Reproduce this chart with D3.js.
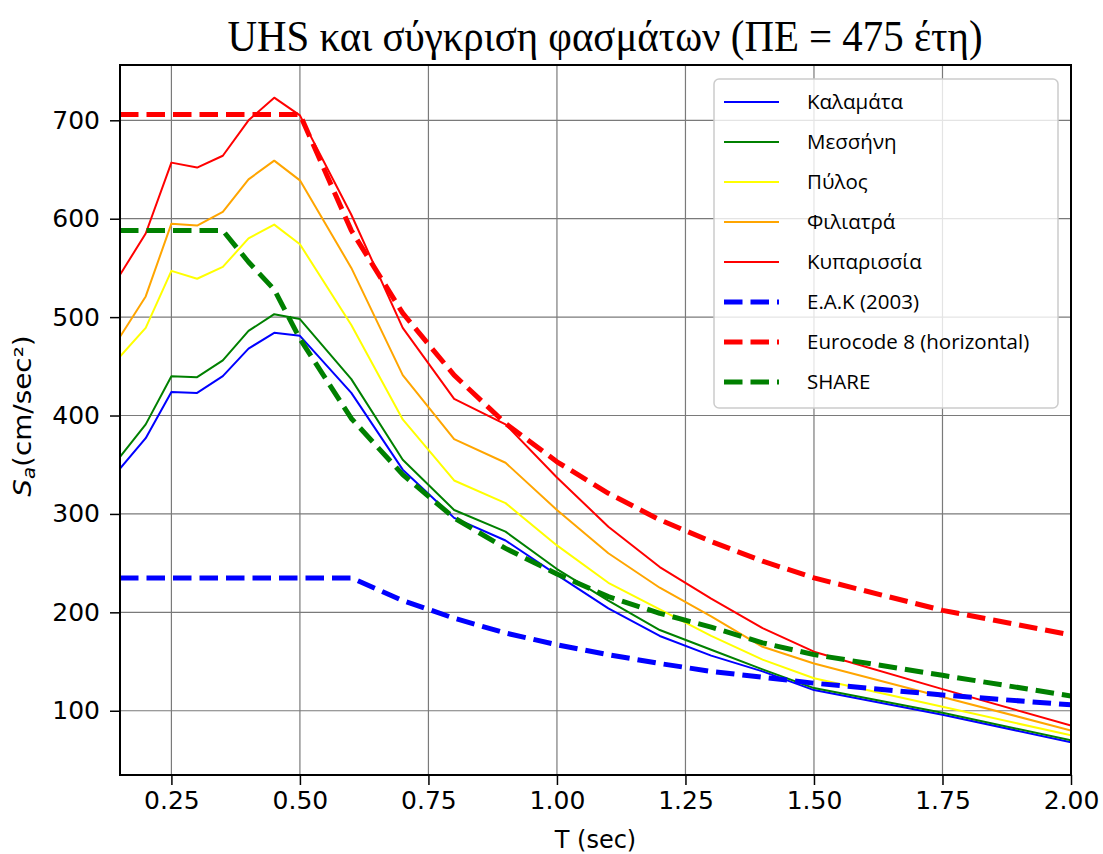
<!DOCTYPE html>
<html>
<head>
<meta charset="utf-8">
<script src="https://cdn.jsdelivr.net/npm/d3@7"></script>
<style>
  body { margin: 0; background: #fff; }
  svg { display: block; }
</style>
</head>
<body>
<svg id="chart" width="1103" height="854"></svg>
<script>
// Periods (sec)
const periods = [0.15, 0.2, 0.25, 0.3, 0.35, 0.4, 0.45, 0.5, 0.6, 0.7, 0.8, 0.9, 1.0, 1.1, 1.2, 1.3, 1.4, 1.5, 1.75, 2.0];

// Uniform hazard spectra, Sa (cm/sec^2)
const kalamata   = [346, 377, 424, 423, 440, 468, 484, 481, 423, 345, 296, 273, 238, 204, 176, 156, 140, 121, 96, 68];
const messini    = [358, 391, 440, 439, 456, 486, 503, 498, 437, 355, 304, 282, 244, 212, 182, 162, 142, 123, 98, 70];
const pylos      = [460, 489, 547, 539, 551, 580, 594, 574, 492, 396, 334, 311, 268, 230, 203, 176, 152, 133, 104, 75];
const filiatra   = [480, 521, 595, 593, 607, 640, 659, 639, 550, 441, 376, 352, 304, 260, 225, 196, 165, 148, 114, 80];
const kyparissia = [543, 585, 657, 652, 664, 700, 723, 705, 604, 489, 417, 391, 337, 287, 246, 214, 184, 160, 122, 85];

// Code spectra
const eak2003 = [235, 235, 235, 235, 235, 235, 235, 235, 235, 212, 194, 179, 167, 157, 148, 140, 134, 128, 116, 106];
const ec8     = [706, 706, 706, 706, 706, 706, 706, 706, 588, 504, 441, 392, 353, 321, 294, 272, 252, 235, 202, 177];
const share   = [588, 588, 588, 588, 588, 556, 528, 478, 397, 340, 296, 265, 239, 216, 199, 185, 169, 157, 136, 115];

// Axis ticks
const xTicks = [0.25, 0.5, 0.75, 1.0, 1.25, 1.5, 1.75, 2.0];
const yTicks = [100, 200, 300, 400, 500, 600, 700];

const seriesNames  = ["Καλαμάτα", "Μεσσήνη", "Πύλος", "Φιλιατρά", "Κυπαρισσία", "Ε.Α.Κ (2003)", "Eurocode 8 (horizontal)", "SHARE"];
const seriesValues = [kalamata, messini, pylos, filiatra, kyparissia, eak2003, ec8, share];
const seriesColors = ["#0000ff", "#008000", "#ffff00", "#ffa500", "#ff0000", "#0000ff", "#ff0000", "#008000"];
const seriesDashed = [false, false, false, false, false, true, true, true];

const svg = d3.select("#chart");
const pLeft = 120, pRight = 1071, pTop = 65, pBottom = 775;

const x = d3.scaleLinear().domain([0.15, 2.0]).range([pLeft, pRight]);
const y = d3.scaleLinear().domain([34.7, 756.2]).range([pBottom, pTop]);

svg.append("defs").append("clipPath").attr("id", "plotclip")
  .append("rect").attr("x", pLeft).attr("y", pTop)
  .attr("width", pRight - pLeft).attr("height", pBottom - pTop);

// Grid
const grid = svg.append("g");
grid.selectAll("line.gx").data(xTicks).join("line")
  .attr("x1", d => x(d)).attr("x2", d => x(d))
  .attr("y1", pTop).attr("y2", pBottom)
  .attr("stroke", "#7a7a7a").attr("stroke-width", 1.2);
grid.selectAll("line.gy").data(yTicks).join("line")
  .attr("x1", pLeft).attr("x2", pRight)
  .attr("y1", d => y(d)).attr("y2", d => y(d))
  .attr("stroke", "#7a7a7a").attr("stroke-width", 1.2);

// Series lines
const line = d3.line().x((d, i) => x(periods[i])).y(d => y(d));
const plot = svg.append("g").attr("clip-path", "url(#plotclip)");
seriesValues.forEach((vals, k) => {
  plot.append("path")
    .datum(vals)
    .attr("d", line)
    .attr("fill", "none")
    .attr("stroke", seriesColors[k])
    .attr("stroke-width", seriesDashed[k] ? 5 : 2)
    .attr("stroke-dasharray", seriesDashed[k] ? "18.5,8" : null)
    .attr("stroke-linejoin", "round");
});

// Axes
const tickFont = "'DejaVu Sans', sans-serif";
const xAxis = svg.append("g").attr("transform", `translate(0,${pBottom})`)
  .call(d3.axisBottom(x).tickValues(xTicks).tickFormat(d3.format(".2f")).tickSize(10).tickPadding(6));
const yAxis = svg.append("g").attr("transform", `translate(${pLeft},0)`)
  .call(d3.axisLeft(y).tickValues(yTicks).tickFormat(d3.format("d")).tickSize(10).tickPadding(10));
[xAxis, yAxis].forEach(a => {
  a.select(".domain").remove();
  a.selectAll(".tick line").attr("stroke", "#000").attr("stroke-width", 1.5);
  a.selectAll(".tick text").attr("fill", "#000")
    .style("font-family", tickFont).style("font-size", "25px");
});

// Frame
svg.append("rect").attr("x", pLeft).attr("y", pTop)
  .attr("width", pRight - pLeft).attr("height", pBottom - pTop)
  .attr("fill", "none").attr("stroke", "#000").attr("stroke-width", 2);

// Title
svg.append("text").attr("x", 605).attr("y", 51).attr("text-anchor", "middle")
  .attr("textLength", 755).attr("lengthAdjust", "spacingAndGlyphs")
  .style("font-family", "'Liberation Serif', 'Times New Roman', serif")
  .style("font-size", "45px").attr("fill", "#000")
  .text("UHS και σύγκριση φασμάτων (ΠΕ = 475 έτη)");

// Axis labels
svg.append("text").attr("x", (pLeft + pRight) / 2).attr("y", 848).attr("text-anchor", "middle")
  .style("font-family", tickFont).style("font-size", "24px").attr("fill", "#000")
  .text("T (sec)");

const yl = svg.append("text").attr("transform", "translate(31,416) rotate(-90) scale(1.16,1)")
  .attr("text-anchor", "middle")
  .style("font-family", tickFont).style("font-size", "24px").attr("fill", "#000");
yl.append("tspan").style("font-style", "italic").text("S");
yl.append("tspan").style("font-style", "italic").style("font-size", "17px").attr("dy", 4).text("a");
yl.append("tspan").attr("dy", -4).text("(cm/sec²)");

// Legend
const lg = svg.append("g");
lg.append("rect").attr("x", 714).attr("y", 79).attr("width", 344).attr("height", 329)
  .attr("rx", 5).attr("fill", "#fff").attr("fill-opacity", 0.8)
  .attr("stroke", "#cccccc").attr("stroke-width", 1.5);
seriesNames.forEach((name, k) => {
  const yy = 102 + k * 40;
  lg.append("line").attr("x1", 724).attr("x2", 779).attr("y1", yy).attr("y2", yy)
    .attr("stroke", seriesColors[k])
    .attr("stroke-width", seriesDashed[k] ? 5 : 2)
    .attr("stroke-dasharray", seriesDashed[k] ? "18.5,8" : null);
  lg.append("text").attr("x", 807).attr("y", yy + 7)
    .style("font-family", "'Open Sans', sans-serif").style("font-size", "20.5px")
    .attr("fill", "#000").text(name);
});
</script>
</body>
</html>
